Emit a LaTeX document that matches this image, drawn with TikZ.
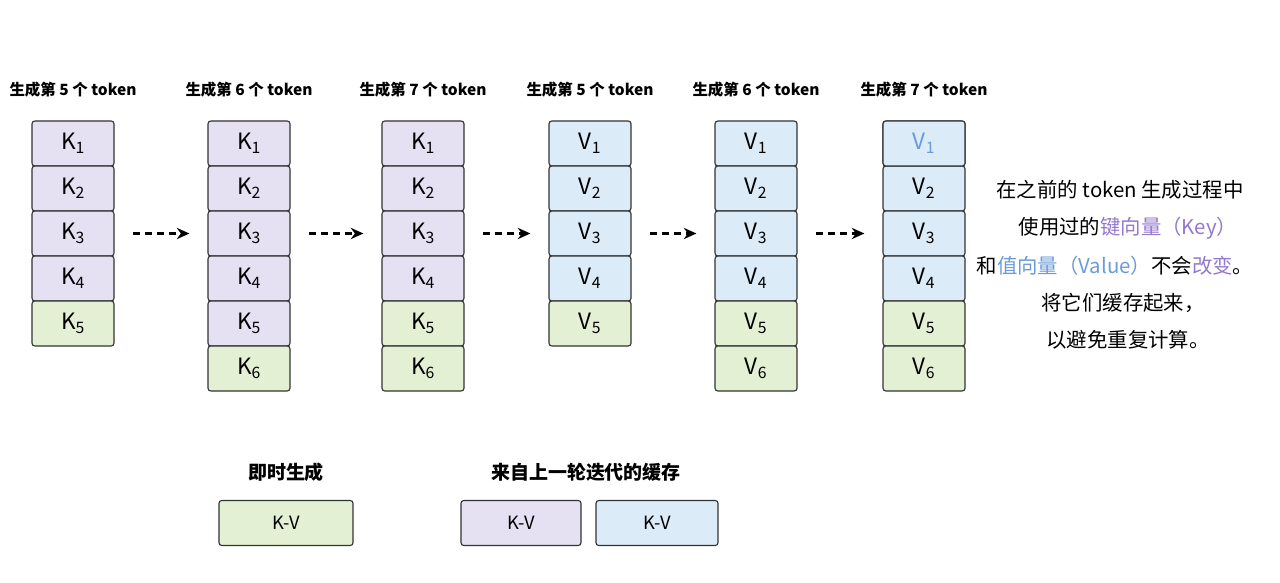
\documentclass[tikz,border=0pt]{standalone}
\usepackage{fontspec}
\setmainfont{Noto Sans CJK SC}
\usetikzlibrary{arrows.meta}
\definecolor{kfill}{HTML}{E6E0F3}
\definecolor{vfill}{HTML}{DCEBF8}
\definecolor{nfill}{HTML}{E4F0D4}
\definecolor{ktext}{HTML}{9378CC}
\definecolor{vtext}{HTML}{6A9BD8}
\begin{document}
\begin{tikzpicture}[x=0.025cm,y=-0.025cm,thick,
    cell/.style={draw=black!80,rounded corners=2pt,minimum width=2.05cm,minimum height=1.125cm,font=\fontsize{16}{16}\selectfont,inner sep=0pt},
    title/.style={font=\fontsize{11}{11}\selectfont\bfseries},
    note/.style={font=\fontsize{14.5}{14.5}\selectfont},
    flow/.style={dash pattern=on 5pt off 3.5pt,-{Stealth[length=9pt,width=8pt]},line width=1.5pt}]
    \useasboundingbox (0,0) rectangle (1280,583);

    % columns of cached key / value vectors
    \foreach \c/\x/\L/\n/\g/\f/\tk in {1/73/K/5/5/kfill/5,2/249/K/6/6/kfill/6,3/423/K/6/5/kfill/7,4/590/V/5/5/vfill/5,5/756/V/6/5/vfill/6,6/924/V/6/5/vfill/7}{
        \node[title] at (\x,90) (t\c) {生成第 \tk\ 个 token};
        \foreach \i in {1,...,\n}{
            \pgfmathsetmacro{\yy}{143.5+45*(\i-1)}
            \ifnum\i<\g
                \node[cell,fill=\f] at (\x,\yy) (c\c-\i) {\L\textsubscript{\i}};
            \else
                \node[cell,fill=nfill] at (\x,\yy) (c\c-\i) {\L\textsubscript{\i}};
            \fi
        }
    }
    \node[cell,fill=vfill,text=vtext] at (924,143.5) {V\textsubscript{1}};

    \foreach \a/\b in {1/2,2/3,3/4,4/5,5/6}
        \draw[flow] ([xshift=0.47cm]c\a-3.east) -- ([xshift=-0.45cm]c\b-3.west);

    % explanation
    \node[note] at (1120,190) (n1) {在之前的 token 生成过程中};
    \node[note] at (1128,228) (n2) {使用过的\textcolor{ktext}{键向量（Key）}};
    \node[note] at (1115,266) (n3) {和\textcolor{vtext}{值向量（Value）}不会\textcolor{ktext}{改变}。};
    \node[note] at (1123,303) (n4) {将它们缓存起来，};
    \node[note] at (1128,340) (n5) {以避免重复计算。};

    % legend
    \node[title,font=\fontsize{13.5}{13.5}\selectfont\bfseries] at (286,472) (l1) {即时生成};
    \node[cell,fill=nfill,minimum width=3.35cm,font=\fontsize{13}{13}\selectfont] at (286,523) (kv1) {K-V};
    \node[title,font=\fontsize{13.5}{13.5}\selectfont\bfseries] at (586,472) (l2) {来自上一轮迭代的缓存};
    \node[cell,fill=kfill,minimum width=3cm,font=\fontsize{13}{13}\selectfont] at (521,523) (kv2) {K-V};
    \node[cell,fill=vfill,minimum width=3.05cm,font=\fontsize{13}{13}\selectfont] at (657,523) (kv3) {K-V};
\end{tikzpicture}
\end{document}
